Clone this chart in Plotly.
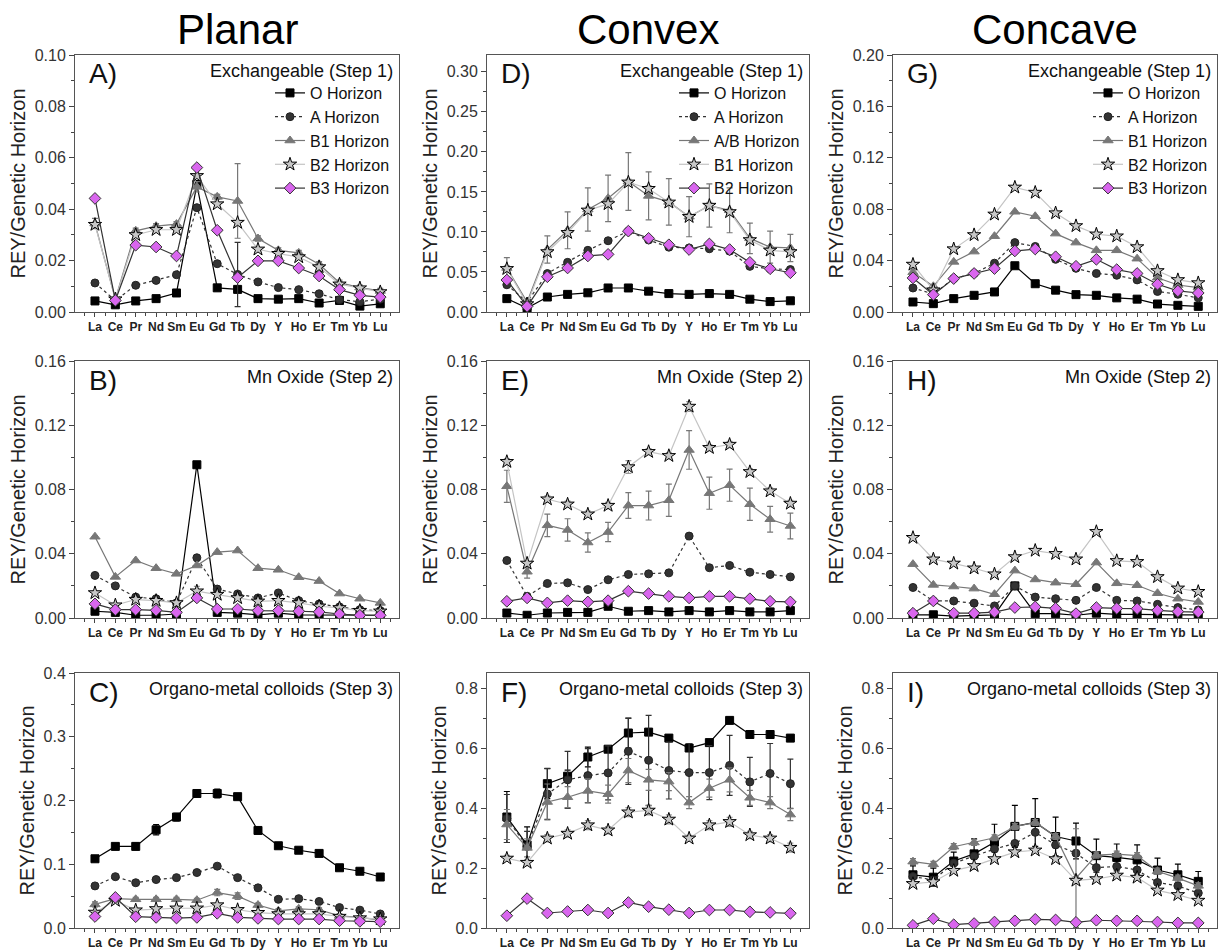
import plotly.graph_objects as go

# ---------------- data ----------------
elements = ["La", "Ce", "Pr", "Nd", "Sm", "Eu", "Gd", "Tb", "Dy", "Y", "Ho", "Er", "Tm", "Yb", "Lu"]
column_titles = ["Planar", "Convex", "Concave"]
row_subtitles = ["Exchangeable (Step 1)", "Mn Oxide (Step 2)", "Organo-metal colloids (Step 3)"]
panel_letters = [["A)", "D)", "G)"], ["B)", "E)", "H)"], ["C)", "F)", "I)"]]
names_planar = ["O Horizon", "A Horizon", "B1 Horizon", "B2 Horizon", "B3 Horizon"]
names_convex = ["O Horizon", "A Horizon", "A/B Horizon", "B1 Horizon", "B2 Horizon"]
names_concave = ["O Horizon", "A Horizon", "B1 Horizon", "B2 Horizon", "B3 Horizon"]

# Planar - exchangeable
pl_ex_O = [0.0043, 0.0028, 0.0043, 0.0052, 0.0074, 0.0496, 0.0094, 0.0088, 0.0052, 0.0050, 0.0052, 0.0035, 0.0045, 0.0023, 0.0032]
pl_ex_A = [0.0113, 0.0045, 0.0104, 0.0123, 0.0145, 0.0406, 0.0188, 0.0146, 0.0117, 0.0095, 0.0087, 0.0071, 0.0048, 0.0040, 0.0050]
pl_ex_B1 = [0.0344, 0.0050, 0.0316, 0.0334, 0.0342, 0.0487, 0.0448, 0.0432, 0.0286, 0.0240, 0.0230, 0.0186, 0.0114, 0.0095, 0.0082]
pl_ex_B2 = [0.0340, 0.0050, 0.0300, 0.0320, 0.0320, 0.0530, 0.0420, 0.0348, 0.0244, 0.0227, 0.0214, 0.0175, 0.0108, 0.0093, 0.0078]
pl_ex_B3 = [0.0442, 0.0045, 0.0260, 0.0253, 0.0218, 0.0562, 0.0318, 0.0134, 0.0199, 0.0199, 0.0171, 0.0140, 0.0087, 0.0065, 0.0058]
pl_ex_A_err = [0, 0, 0, 0, 0, 0, 0, 0.0125, 0, 0, 0, 0, 0, 0, 0]
pl_ex_B1_err = [0.002, 0, 0.001, 0.001, 0.001, 0.002, 0.001, 0.0145, 0.001, 0.001, 0.001, 0.001, 0.001, 0.001, 0.001]

# Convex - exchangeable
cv_ex_O = [0.0167, 0.0050, 0.0187, 0.0220, 0.0240, 0.0300, 0.0300, 0.0260, 0.0230, 0.0220, 0.0230, 0.0220, 0.0160, 0.0130, 0.0140]
cv_ex_A = [0.034, 0.0125, 0.048, 0.062, 0.077, 0.089, 0.101, 0.090, 0.081, 0.080, 0.079, 0.076, 0.057, 0.054, 0.053]
cv_ex_AB = [0.055, 0.0125, 0.078, 0.102, 0.128, 0.142, 0.163, 0.145, 0.1375, 0.119, 0.133, 0.127, 0.092, 0.081, 0.080]
cv_ex_B1 = [0.054, 0.010, 0.075, 0.099, 0.127, 0.135, 0.162, 0.154, 0.137, 0.119, 0.133, 0.125, 0.090, 0.077, 0.075]
cv_ex_B2 = [0.040, 0.007, 0.044, 0.055, 0.070, 0.072, 0.101, 0.092, 0.084, 0.078, 0.085, 0.078, 0.062, 0.054, 0.049]
cv_ex_AB_err = [0.013, 0.004, 0.017, 0.023, 0.027, 0.029, 0.036, 0.030, 0.029, 0.025, 0.027, 0.028, 0.019, 0.020, 0.017]
cv_ex_B1_err = [0.004, 0.002, 0.004, 0.004, 0.004, 0.004, 0.004, 0.004, 0.004, 0.004, 0.004, 0.004, 0.004, 0.004, 0.004]

# Concave - exchangeable
cc_ex_O = [0.0078, 0.0065, 0.0104, 0.0130, 0.0156, 0.0360, 0.0220, 0.0170, 0.0135, 0.0130, 0.0110, 0.0100, 0.0062, 0.0052, 0.0044]
cc_ex_A = [0.0187, 0.0140, 0.0260, 0.0300, 0.0380, 0.0540, 0.0510, 0.0410, 0.0340, 0.0300, 0.0286, 0.0250, 0.0160, 0.0138, 0.0110]
cc_ex_B1 = [0.031, 0.020, 0.039, 0.047, 0.059, 0.078, 0.0745, 0.061, 0.054, 0.048, 0.048, 0.0415, 0.0267, 0.021, 0.019]
cc_ex_B2 = [0.037, 0.017, 0.049, 0.060, 0.076, 0.097, 0.093, 0.077, 0.067, 0.0605, 0.059, 0.0506, 0.032, 0.025, 0.0226]
cc_ex_B3 = [0.0265, 0.0135, 0.026, 0.030, 0.0338, 0.0475, 0.049, 0.043, 0.0356, 0.041, 0.033, 0.030, 0.0216, 0.0164, 0.0148]

# Planar - Mn oxide
pl_mn_O = [0.0042, 0.0035, 0.0017, 0.0017, 0.0025, 0.0954, 0.0035, 0.0030, 0.0020, 0.0030, 0.0020, 0.0020, 0.0017, 0.0017, 0.0017]
pl_mn_A = [0.0265, 0.0200, 0.0130, 0.0120, 0.0094, 0.0375, 0.0180, 0.0150, 0.0125, 0.0156, 0.0108, 0.0087, 0.0069, 0.0052, 0.0046]
pl_mn_B1 = [0.0506, 0.0256, 0.0358, 0.0310, 0.0275, 0.0327, 0.0410, 0.0420, 0.0310, 0.0300, 0.0254, 0.0230, 0.0152, 0.0120, 0.0094]
pl_mn_B2 = [0.0156, 0.0080, 0.0115, 0.0108, 0.0094, 0.0167, 0.0146, 0.0125, 0.0104, 0.0108, 0.0094, 0.0073, 0.0063, 0.0046, 0.0042]
pl_mn_B3 = [0.0088, 0.0052, 0.0052, 0.0048, 0.0035, 0.0125, 0.0056, 0.0056, 0.0046, 0.0046, 0.0042, 0.0038, 0.0025, 0.0017, 0.0017]
pl_mn_O_err = [0, 0, 0, 0, 0, 0.0015, 0, 0, 0, 0, 0, 0, 0, 0, 0]
pl_mn_B2_err = [0.001, 0.001, 0.001, 0.001, 0.001, 0.003, 0.001, 0.001, 0.001, 0.001, 0.001, 0.001, 0.001, 0.001, 0.001]

# Convex - Mn oxide
cv_mn_O = [0.0031, 0.0017, 0.0031, 0.0035, 0.0035, 0.0073, 0.0042, 0.0046, 0.0038, 0.0046, 0.0038, 0.0046, 0.0038, 0.0038, 0.0046]
cv_mn_A = [0.0358, 0.0135, 0.0215, 0.0219, 0.0177, 0.0238, 0.0271, 0.0275, 0.0281, 0.0510, 0.0313, 0.0327, 0.0285, 0.0271, 0.0256]
cv_mn_AB = [0.082, 0.0288, 0.0577, 0.0548, 0.047, 0.0535, 0.070, 0.070, 0.0733, 0.1046, 0.0777, 0.0827, 0.0708, 0.0615, 0.0573]
cv_mn_B1 = [0.0973, 0.034, 0.074, 0.0708, 0.0646, 0.070, 0.094, 0.1035, 0.101, 0.1317, 0.106, 0.108, 0.091, 0.079, 0.0713]
cv_mn_B2 = [0.0104, 0.0125, 0.0094, 0.0108, 0.010, 0.0108, 0.0167, 0.0152, 0.0135, 0.0125, 0.0135, 0.0135, 0.012, 0.0104, 0.010]
cv_mn_AB_err = [0.010, 0.004, 0.007, 0.007, 0.006, 0.006, 0.008, 0.009, 0.010, 0.012, 0.010, 0.010, 0.010, 0.008, 0.008]
cv_mn_B1_err = [0.002, 0.001, 0.002, 0.002, 0.002, 0.002, 0.004, 0.002, 0.002, 0.003, 0.002, 0.002, 0.002, 0.002, 0.002]

# Concave - Mn oxide
cc_mn_O = [0.0020, 0.0020, 0.0012, 0.0017, 0.0020, 0.0200, 0.0027, 0.0027, 0.0017, 0.0030, 0.0023, 0.0023, 0.0020, 0.0020, 0.0020]
cc_mn_A = [0.019, 0.0106, 0.0106, 0.0092, 0.0075, 0.020, 0.013, 0.012, 0.011, 0.019, 0.011, 0.0106, 0.0085, 0.0065, 0.005]
cc_mn_B1 = [0.0335, 0.0206, 0.0196, 0.0183, 0.0148, 0.0295, 0.024, 0.022, 0.021, 0.0345, 0.0216, 0.0204, 0.0154, 0.012, 0.010]
cc_mn_B2 = [0.050, 0.0366, 0.034, 0.031, 0.0273, 0.038, 0.042, 0.040, 0.0366, 0.0537, 0.0356, 0.035, 0.0256, 0.0185, 0.0164]
cc_mn_B3 = [0.003, 0.0106, 0.003, 0.003, 0.0037, 0.0065, 0.0069, 0.006, 0.0027, 0.0065, 0.006, 0.0058, 0.0048, 0.004, 0.0037]

# Planar - organo-metal colloids
pl_om_O = [0.1086, 0.128, 0.128, 0.154, 0.174, 0.211, 0.211, 0.206, 0.153, 0.129, 0.122, 0.117, 0.0945, 0.089, 0.080]
pl_om_A = [0.066, 0.0805, 0.071, 0.076, 0.079, 0.087, 0.097, 0.079, 0.063, 0.045, 0.046, 0.0416, 0.032, 0.028, 0.022]
pl_om_B1 = [0.037, 0.046, 0.045, 0.045, 0.045, 0.0436, 0.0556, 0.050, 0.036, 0.027, 0.030, 0.0286, 0.019, 0.0166, 0.0125]
pl_om_B2 = [0.0244, 0.043, 0.028, 0.030, 0.031, 0.031, 0.036, 0.0286, 0.024, 0.022, 0.022, 0.022, 0.018, 0.0156, 0.014]
pl_om_B3 = [0.018, 0.048, 0.0177, 0.0166, 0.0156, 0.0166, 0.023, 0.0166, 0.015, 0.014, 0.014, 0.014, 0.0114, 0.0104, 0.0099]
pl_om_O_err = [0.003, 0.003, 0.005, 0.008, 0.006, 0.003, 0.007, 0.003, 0.003, 0.003, 0.003, 0.003, 0.003, 0.003, 0.003]
pl_om_B1_err = [0.004, 0.006, 0.003, 0.003, 0.003, 0.003, 0.005, 0.005, 0.003, 0.003, 0.003, 0.003, 0.003, 0.003, 0.003]

# Convex - organo-metal colloids
cv_om_O = [0.370, 0.277, 0.481, 0.506, 0.570, 0.596, 0.650, 0.653, 0.633, 0.600, 0.618, 0.692, 0.645, 0.645, 0.633]
cv_om_A = [0.365, 0.272, 0.447, 0.494, 0.508, 0.517, 0.589, 0.559, 0.525, 0.518, 0.518, 0.542, 0.487, 0.515, 0.481]
cv_om_AB = [0.345, 0.267, 0.420, 0.436, 0.457, 0.446, 0.525, 0.494, 0.488, 0.418, 0.466, 0.494, 0.434, 0.418, 0.378]
cv_om_B1 = [0.232, 0.218, 0.299, 0.315, 0.343, 0.326, 0.386, 0.392, 0.362, 0.299, 0.343, 0.354, 0.310, 0.299, 0.268]
cv_om_B2 = [0.041, 0.098, 0.050, 0.055, 0.060, 0.050, 0.085, 0.071, 0.061, 0.050, 0.060, 0.060, 0.054, 0.052, 0.049]
cv_om_O_err = [0.085, 0.060, 0.050, 0.020, 0.033, 0.010, 0.050, 0.010, 0.010, 0.010, 0.010, 0.010, 0.010, 0.010, 0.010]
cv_om_A_err = [0.080, 0.050, 0.085, 0.095, 0.090, 0.090, 0.110, 0.150, 0.095, 0.097, 0.090, 0.100, 0.082, 0.100, 0.082]
cv_om_AB_err = [0.050, 0.030, 0.060, 0.035, 0.040, 0.030, 0.040, 0.035, 0.030, 0.020, 0.030, 0.040, 0.025, 0.020, 0.020]
cv_om_B1_err = [0.010, 0.010, 0.012, 0.012, 0.015, 0.012, 0.015, 0.015, 0.015, 0.010, 0.015, 0.015, 0.012, 0.012, 0.015]

# Concave - organo-metal colloids
cc_om_O = [0.178, 0.170, 0.224, 0.248, 0.287, 0.340, 0.353, 0.306, 0.291, 0.242, 0.236, 0.228, 0.194, 0.178, 0.156]
cc_om_A = [0.172, 0.161, 0.217, 0.240, 0.264, 0.283, 0.320, 0.278, 0.250, 0.202, 0.206, 0.194, 0.152, 0.141, 0.117]
cc_om_B1 = [0.222, 0.213, 0.272, 0.286, 0.302, 0.339, 0.353, 0.306, 0.167, 0.244, 0.247, 0.242, 0.190, 0.167, 0.141]
cc_om_B2 = [0.148, 0.154, 0.192, 0.208, 0.231, 0.254, 0.260, 0.231, 0.159, 0.164, 0.176, 0.169, 0.126, 0.111, 0.092]
cc_om_B3 = [0.009, 0.031, 0.011, 0.015, 0.020, 0.024, 0.029, 0.027, 0.019, 0.026, 0.024, 0.024, 0.020, 0.017, 0.017]
cc_om_O_err = [0.030, 0.030, 0.030, 0.050, 0.060, 0.070, 0.080, 0.065, 0.060, 0.055, 0.045, 0.050, 0.040, 0.036, 0.033]
cc_om_B1_err = [0.010, 0.010, 0.010, 0.010, 0.010, 0.010, 0.010, 0.010, 0.165, 0.010, 0.010, 0.010, 0.010, 0.010, 0.010]

# ---------------- styling ----------------
FONT = "Arial, Liberation Sans, sans-serif"
styles = [
    dict(symbol="square", fill="#000000", outline="#000000", line="#000000", dash="solid", size=8, err="#000000"),
    dict(symbol="circle", fill="#333333", outline="#222222", line="#333333", dash="dot", size=8, err="#333333"),
    dict(symbol="triangle-up", fill="#777777", outline="#777777", line="#777777", dash="solid", size=9, err="#777777"),
    dict(symbol="star", fill="#c8c8c8", outline="#000000", line="#c4c4c4", dash="solid", size=10, err="#999999"),
    dict(symbol="diamond", fill="#d966ee", outline="#333333", line="#333333", dash="solid", size=9, err="#333333"),
]

panels = [
    (1, 1, [pl_ex_O, pl_ex_A, pl_ex_B1, pl_ex_B2, pl_ex_B3], [None, pl_ex_A_err, pl_ex_B1_err, None, None], names_planar, [0, 0.10], 0.02, ".2f"),
    (1, 2, [cv_ex_O, cv_ex_A, cv_ex_AB, cv_ex_B1, cv_ex_B2], [None, None, cv_ex_AB_err, cv_ex_B1_err, None], names_convex, [0, 0.321], 0.05, ".2f"),
    (1, 3, [cc_ex_O, cc_ex_A, cc_ex_B1, cc_ex_B2, cc_ex_B3], [None, None, None, None, None], names_concave, [0, 0.20], 0.04, ".2f"),
    (2, 1, [pl_mn_O, pl_mn_A, pl_mn_B1, pl_mn_B2, pl_mn_B3], [pl_mn_O_err, None, None, pl_mn_B2_err, None], names_planar, [0, 0.16], 0.04, ".2f"),
    (2, 2, [cv_mn_O, cv_mn_A, cv_mn_AB, cv_mn_B1, cv_mn_B2], [None, None, cv_mn_AB_err, cv_mn_B1_err, None], names_convex, [0, 0.16], 0.04, ".2f"),
    (2, 3, [cc_mn_O, cc_mn_A, cc_mn_B1, cc_mn_B2, cc_mn_B3], [None, None, None, None, None], names_concave, [0, 0.16], 0.04, ".2f"),
    (3, 1, [pl_om_O, pl_om_A, pl_om_B1, pl_om_B2, pl_om_B3], [pl_om_O_err, None, pl_om_B1_err, None, None], names_planar, [0, 0.40], 0.1, ".1f"),
    (3, 2, [cv_om_O, cv_om_A, cv_om_AB, cv_om_B1, cv_om_B2], [cv_om_O_err, cv_om_A_err, cv_om_AB_err, cv_om_B1_err, None], names_convex, [0, 0.85], 0.2, ".1f"),
    (3, 3, [cc_om_O, cc_om_A, cc_om_B1, cc_om_B2, cc_om_B3], [cc_om_O_err, None, cc_om_B1_err, None, None], names_concave, [0, 0.853], 0.2, ".1f"),
]

W, H = 1221, 950
col_px = [(75, 399), (487, 809), (893, 1217)]
row_px = [(55, 312), (361, 618), (673, 928)]
xs = list(range(len(elements)))

fig = go.Figure()
layout = dict(
    width=W, height=H, margin=dict(l=0, r=0, t=0, b=0),
    paper_bgcolor="white", plot_bgcolor="white",
    font=dict(family=FONT, color="#222"),
    annotations=[],
)
legend_ids = {1: "legend", 2: "legend2", 3: "legend3"}

for (r, c, series, errs, names, yr, dt, fmt) in panels:
    k = (r - 1) * 3 + c
    xa = "x" if k == 1 else f"x{k}"
    ya = "y" if k == 1 else f"y{k}"
    for i, (vals, err, nm) in enumerate(zip(series, errs, names)):
        st = styles[i]
        tr = go.Scatter(
            x=xs, y=vals, name=nm, mode="lines+markers",
            line=dict(color=st["line"], width=1.2, dash=st["dash"]),
            marker=dict(symbol=st["symbol"], size=st["size"], color=st["fill"],
                        line=dict(color=st["outline"], width=1)),
            xaxis=xa, yaxis=ya,
            showlegend=(r == 1), legend=legend_ids[c],
        )
        if err is not None:
            tr.error_y = dict(type="data", array=err, visible=True, color=st["err"], thickness=1.2, width=3)
        fig.add_trace(tr)

    x0, x1 = col_px[c - 1]
    y0, y1 = row_px[r - 1]
    xkey = "xaxis" if k == 1 else f"xaxis{k}"
    ykey = "yaxis" if k == 1 else f"yaxis{k}"
    layout[xkey] = dict(
        domain=[x0 / W, x1 / W], anchor=ya, range=[-0.98, 14.92],
        tickmode="array", tickvals=xs, ticktext=elements,
        ticks="outside", ticklen=4, tickcolor="#444",
        tickfont=dict(family=FONT, size=12, color="#222", weight="bold"),
        showline=True, linecolor="#555", linewidth=1, mirror=True,
        showgrid=False, zeroline=False, automargin=False,
        minor=dict(tickmode="array", tickvals=[v + 0.5 for v in xs[:-1]] + [-0.5, 14.5],
                   ticks="outside", ticklen=3, tickcolor="#444"),
    )
    layout[ykey] = dict(
        domain=[1 - y1 / H, 1 - y0 / H], anchor=xa, range=yr,
        tickmode="linear", tick0=0, dtick=dt, tickformat=fmt,
        ticks="outside", ticklen=5, tickcolor="#444",
        tickfont=dict(family=FONT, size=16, color="#333"),
        showline=True, linecolor="#555", linewidth=1, mirror=True,
        showgrid=False, zeroline=False, automargin=False,
        minor=dict(dtick=dt / 2, ticks="outside", ticklen=3, tickcolor="#444"),
        title=dict(text="REY/Genetic Horizon", font=dict(family=FONT, size=20, color="#222"), standoff=3),
    )
    layout["annotations"].append(dict(
        x=(x0 + 12) / W, y=1 - (y0 + 19) / H, xref="paper", yref="paper",
        text=panel_letters[r - 1][c - 1], showarrow=False, xanchor="left", yanchor="middle",
        font=dict(family=FONT, size=28, color="#111"),
    ))
    layout["annotations"].append(dict(
        x=(x1 - 4) / W, y=1 - (y0 + 16) / H, xref="paper", yref="paper",
        text=row_subtitles[r - 1], showarrow=False, xanchor="right", yanchor="middle",
        font=dict(family=FONT, size=18, color="#111"),
    ))

for c, t in enumerate(column_titles):
    x0, x1 = col_px[c]
    layout["annotations"].append(dict(
        x=(x0 + x1) / 2 / W, y=1 - 30 / H, xref="paper", yref="paper",
        text=t, showarrow=False, xanchor="center", yanchor="middle",
        font=dict(family=FONT, size=42, color="#000"),
    ))

for c in (1, 2, 3):
    x0, x1 = col_px[c - 1]
    layout[legend_ids[c]] = dict(
        x=(x1 - 4) / W, y=1 - 76 / H, xanchor="right", yanchor="top",
        xref="paper", yref="paper",
        bgcolor="rgba(0,0,0,0)", borderwidth=0,
        font=dict(family=FONT, size=16, color="#111"),
        tracegroupgap=0, itemsizing="trace",
    )

fig.update_layout(**layout)
fig.write_html(
    "out.html",
    config={"displayModeBar": False},
    post_script="document.body.style.margin='0px';document.body.style.overflow='hidden';",
)
